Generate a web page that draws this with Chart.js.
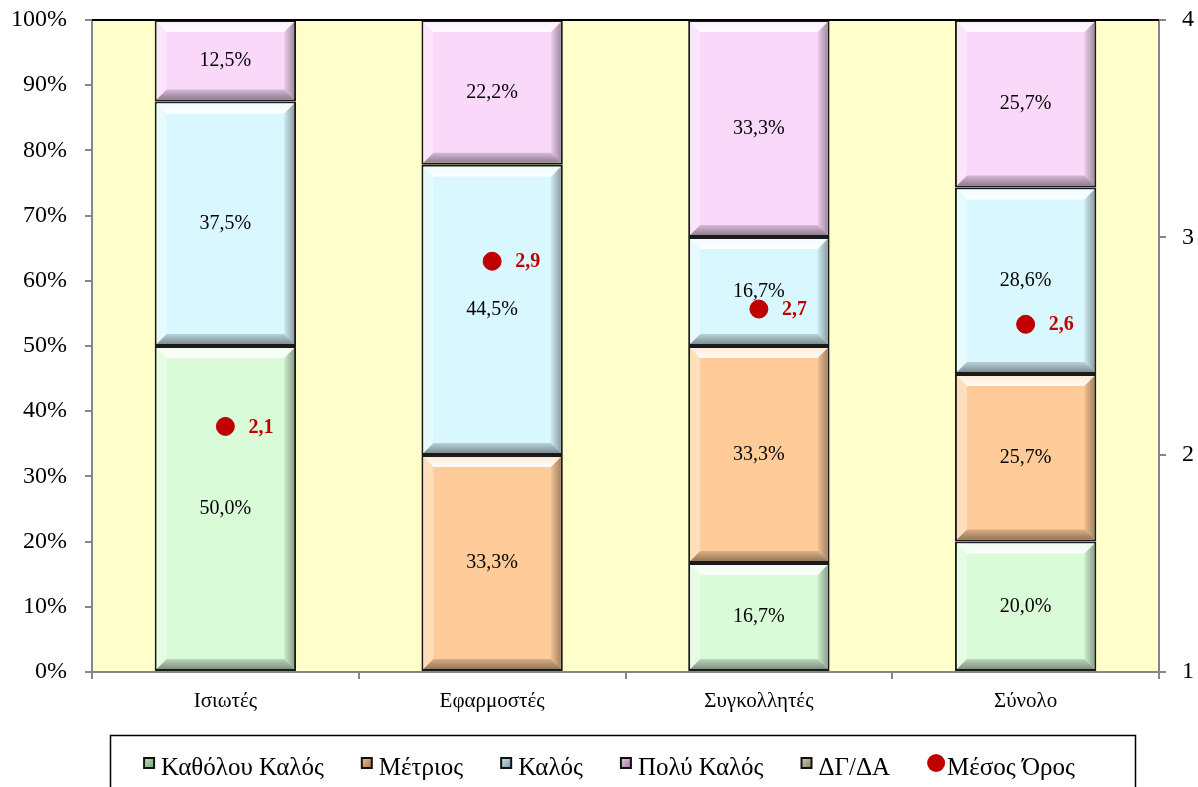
<!DOCTYPE html>
<html><head><meta charset="utf-8">
<script src="https://cdn.jsdelivr.net/npm/chart.js@4.4.0/dist/chart.umd.min.js"></script>
<style>html,body{margin:0;padding:0;background:#fff}#wrap{width:1198px;height:787px}</style>
</head><body><div id="wrap"><canvas id="c"></canvas></div>
<script>
const categories = ['Ισιωτές', 'Εφαρμοστές', 'Συγκολλητές', 'Σύνολο'];
const kathoulouKalos = [50.0, 0, 16.7, 20.0];
const metrios = [0, 33.3, 33.3, 25.7];
const kalos = [37.5, 44.5, 16.7, 28.6];
const polyKalos = [12.5, 22.2, 33.3, 25.7];
const dgda = [0, 0, 0, 0];
const mesosOros = [2.13, 2.89, 2.67, 2.60];
const leftTicks = [0,10,20,30,40,50,60,70,80,90,100];
const rightTicks = [1,2,3,4];

const FONT = "'Liberation Serif', 'Times New Roman', serif";
const fmt = v => v.toFixed(1).replace('.', ',');

const barSeries = [
  {label:'Καθόλου Καλός', data:kathoulouKalos, color:'#DAFBD8', mark:['#C8EAC4','#6F9A6D']},
  {label:'Μέτριος', data:metrios, color:'#FFCC99', mark:['#F3C291','#A86F3F']},
  {label:'Καλός', data:kalos, color:'#D9F7FF', mark:['#D5EFF7','#6F8EA0']},
  {label:'Πολύ Καλός', data:polyKalos, color:'#FAD8FA', mark:['#F0CDF0','#9A6F9C']},
  {label:'ΔΓ/ΔΑ', data:dgda, color:'#E0E0BC', mark:['#D8D6B4','#7D7A5C']}
];

const datasets = barSeries.map(s => ({
  type:'bar', label:s.label, data:s.data, backgroundColor:s.color,
  borderColor:'#1a1a1a', borderWidth: c => (c.raw ? 2 : 0), borderSkipped:false,
  yAxisID:'y', stack:'s', order:1, barPercentage:0.53, categoryPercentage:1
}));
datasets.push({
  type:'line', label:'Μέσος Όρος', data:mesosOros, yAxisID:'y1', showLine:false,
  pointRadius:9, pointHoverRadius:9, pointBackgroundColor:'#C00000', pointBorderColor:'#C00000', order:0
});

const bevelPlugin = {
  id:'bevel',
  beforeDraw(chart){
    const {ctx, chartArea:a} = chart;
    ctx.save(); ctx.fillStyle='#FFFFCC'; ctx.fillRect(a.left, a.top, a.right-a.left, a.bottom-a.top); ctx.restore();
  },
  afterDatasetDraw(chart, args){
    const meta = args.meta; if (meta.type !== 'bar') return;
    const ctx = chart.ctx; const ds = chart.data.datasets[args.index];
    meta.data.forEach((el, i) => {
      if (!ds.data[i]) return;
      const p = el.getProps(['x','y','base','width'], true);
      const bw = 2;
      const L = p.x - p.width/2 + bw, R = p.x + p.width/2 - bw;
      const T = Math.min(p.y, p.base) + bw, B = Math.max(p.y, p.base) - bw;
      const b = Math.min(10, (B-T)/2);
      ctx.save();
      const poly = (pts, fill) => { ctx.beginPath(); ctx.moveTo(pts[0][0], pts[0][1]); for (let k=1;k<pts.length;k++) ctx.lineTo(pts[k][0], pts[k][1]); ctx.closePath(); ctx.fillStyle = fill; ctx.fill(); };
      poly([[L,T],[L+b,T+b],[L+b,B-b],[L,B]], 'rgba(255,255,255,0.35)');
      let g = ctx.createLinearGradient(R-b,0,R,0); g.addColorStop(0,'rgba(0,0,0,0.05)'); g.addColorStop(1,'rgba(0,0,0,0.35)');
      poly([[R,T],[R,B],[R-b,B-b],[R-b,T+b]], g);
      g = ctx.createLinearGradient(0,B-b,0,B); g.addColorStop(0,'rgba(0,0,0,0.15)'); g.addColorStop(1,'rgba(0,0,0,0.42)');
      poly([[L,B],[R,B],[R-b,B-b],[L+b,B-b]], g);
      g = ctx.createLinearGradient(0,T,0,T+b); g.addColorStop(0,'rgba(255,255,255,0.6)'); g.addColorStop(1,'rgba(255,255,255,0.95)');
      poly([[L,T],[R,T],[R-b,T+b],[L+b,T+b]], g);
      ctx.restore();
    });
  },
  afterDatasetsDraw(chart){
    const ctx = chart.ctx, a = chart.chartArea;
    ctx.save();
    ctx.strokeStyle = '#000'; ctx.lineWidth = 2;
    ctx.beginPath(); ctx.moveTo(a.left, a.top); ctx.lineTo(a.right, a.top); ctx.stroke();
    ctx.textAlign = 'center'; ctx.textBaseline = 'middle'; ctx.fillStyle = '#000';
    ctx.font = '20px ' + FONT;
    chart.data.datasets.forEach((ds, di) => {
      const meta = chart.getDatasetMeta(di);
      if (meta.type !== 'bar') return;
      meta.data.forEach((el, i) => {
        if (!ds.data[i]) return;
        const p = el.getProps(['x','y','base'], true);
        ctx.fillText(fmt(ds.data[i]) + '%', p.x, (p.y + p.base)/2);
      });
    });
    const li = chart.data.datasets.length - 1;
    const lm = chart.getDatasetMeta(li);
    ctx.textAlign = 'left'; ctx.fillStyle = '#C00000'; ctx.font = 'bold 20px ' + FONT;
    lm.data.forEach((el, i) => { ctx.fillText(fmt(mesosOros[i]), el.x + 23, el.y + 1); });
    ctx.restore();
  },
  afterDraw(chart){
    const ctx = chart.ctx;
    ctx.save();
    ctx.strokeStyle = '#000'; ctx.lineWidth = 1.5;
    ctx.strokeRect(110.5, 735.5, 1025, 60);
    ctx.font = '25px ' + FONT; ctx.textBaseline = 'middle'; ctx.textAlign = 'left';
    const items = barSeries.map(s => ({label:s.label, mark:s.mark})).concat([{label:'Μέσος Όρος', dot:true}]);
    const box = 12, gap = 6, between = 37;
    let total = 0;
    items.forEach((it, k) => { it.w = (it.dot ? 20 : box + gap) + ctx.measureText(it.label).width; total += it.w + (k ? between : 0); });
    let x = 609 - total/2; const cy = 766;
    items.forEach(it => {
      if (it.dot) {
        ctx.fillStyle = '#C00000'; ctx.beginPath(); ctx.arc(x + 9, cy - 3, 9, 0, Math.PI*2); ctx.fill();
        ctx.fillStyle = '#000'; ctx.fillText(it.label, x + 20, cy + 2);
      } else {
        const g = ctx.createLinearGradient(x, cy-9, x+box, cy+3);
        g.addColorStop(0, it.mark[0]); g.addColorStop(1, it.mark[1]);
        ctx.fillStyle = '#111'; ctx.fillRect(x, cy - 9, box, box);
        ctx.fillStyle = g; ctx.fillRect(x + 2, cy - 7, box - 4, box - 4);
        ctx.fillStyle = '#000'; ctx.fillText(it.label, x + box + gap, cy + 2);
      }
      x += it.w + between;
    });
    ctx.restore();
  }
};

const noVPad = s => { s.paddingTop = 0; s.paddingBottom = 0; };

new Chart(document.getElementById('c'), {
  data: { labels: categories, datasets },
  plugins: [bevelPlugin],
  options: {
    responsive:true, maintainAspectRatio:false, animation:false,
    layout:{ padding:{ top:20, left:0, right:0, bottom:0 } },
    plugins:{ legend:{display:false}, tooltip:{enabled:false} },
    scales:{
      x:{ stacked:true, offset:true,
        grid:{ offset:true, drawOnChartArea:false, tickLength:7, color:'#868686', lineWidth:2 },
        border:{ color:'#868686', width:2 },
        ticks:{ font:{ family:FONT, size:21 }, color:'#000', padding:10, maxRotation:0 },
        afterFit: s => { s.height = 115; s.paddingLeft = 0; s.paddingRight = 0; } },
      y:{ stacked:true, min:0, max:100, position:'left',
        afterBuildTicks: s => { s.ticks = leftTicks.map(v => ({value:v})); },
        grid:{ drawOnChartArea:false, tickLength:7, color:'#868686', lineWidth:2 },
        border:{ color:'#868686', width:2 },
        ticks:{ font:{ family:FONT, size:24 }, color:'#000', padding:18, callback: v => v + '%' },
        afterFit: s => { s.width = 92; noVPad(s); } },
      y1:{ min:1, max:4, position:'right',
        afterBuildTicks: s => { s.ticks = rightTicks.map(v => ({value:v})); },
        grid:{ drawOnChartArea:false, tickLength:7, color:'#868686', lineWidth:2 },
        border:{ color:'#868686', width:2 },
        ticks:{ font:{ family:FONT, size:24 }, color:'#000', padding:16 },
        afterFit: s => { s.width = 39; noVPad(s); } }
    }
  }
});
</script></body></html>
